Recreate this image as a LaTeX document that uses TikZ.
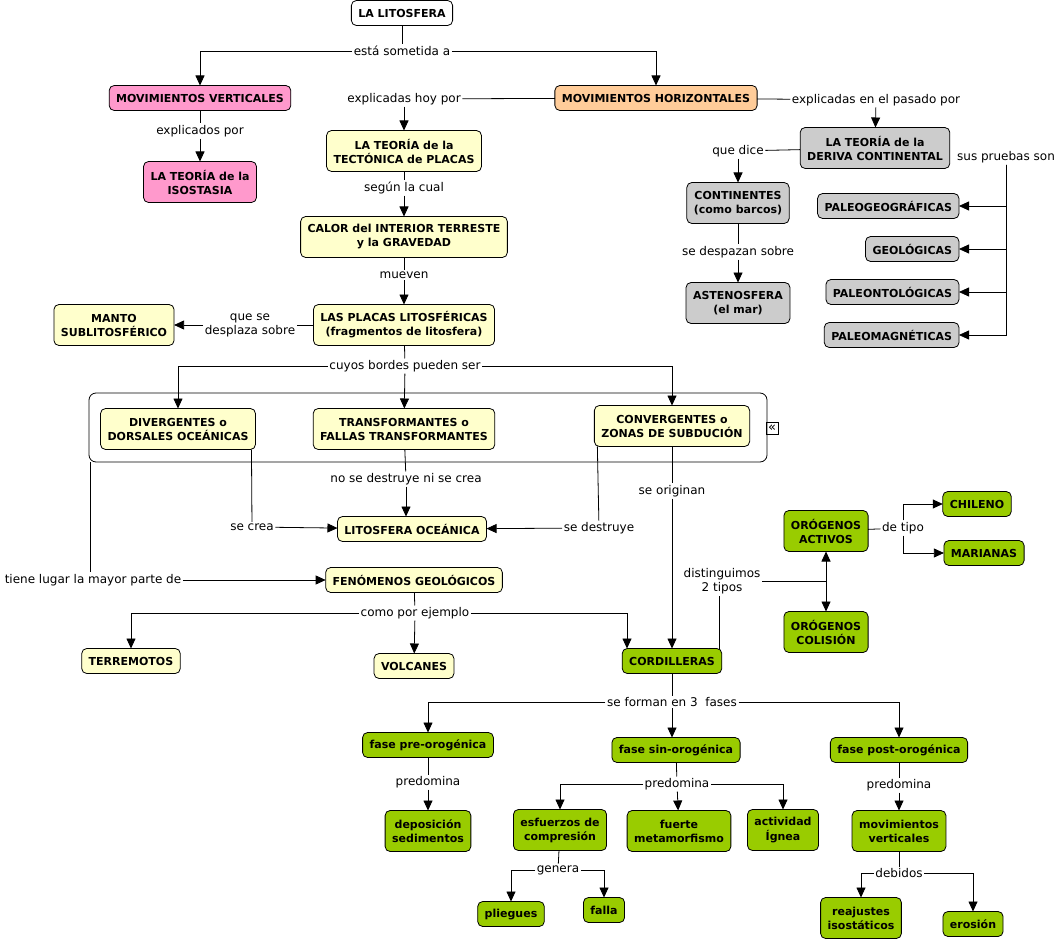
\documentclass[tikz,border=0pt]{standalone}
\usepackage{fontspec}
\setmainfont{DejaVu Sans}
\usetikzlibrary{arrows.meta}
\newcommand{\conceptfont}{\fontsize{11}{14}\selectfont\bfseries}
\newcommand{\linkfont}{\fontsize{12}{14}\selectfont}
\definecolor{cmpink}{HTML}{FF99CC}
\definecolor{cmorange}{HTML}{FFCC99}
\definecolor{cmyellow}{HTML}{FFFFCC}
\definecolor{cmgrey}{HTML}{CCCCCC}
\definecolor{cmgreen}{HTML}{99CC00}
\tikzstyle{concept}=[draw, rounded corners=5pt, line width=0.8pt, align=center, font=\conceptfont,
                     inner xsep=7pt, inner ysep=3pt, minimum height=25pt, outer sep=0]
\tikzstyle{tall}=[concept, minimum height=41pt]
\tikzstyle{pinkbox}=[fill=cmpink]
\tikzstyle{orangebox}=[fill=cmorange]
\tikzstyle{yellowbox}=[fill=cmyellow]
\tikzstyle{greybox}=[fill=cmgrey]
\tikzstyle{greenbox}=[fill=cmgreen]
\tikzstyle{linkword}=[font=\linkfont, align=center, inner sep=1.5pt]
\tikzstyle{plain}=[line width=0.8pt]
\tikzstyle{link}=[plain, -{Triangle[length=10pt, width=9pt]}]
\tikzstyle{conceptmap}=[x=1pt, y=-1pt,
                        % Grouping frame round the plate borders.
                        groupbox/.style={draw, rounded corners=7pt, line width=0.8pt, minimum width=678pt, minimum height=69pt}]

\begin{document}
\begin{tikzpicture}[conceptmap]
    \useasboundingbox (0, 0) rectangle (1062, 941);
    \node[groupbox] (bordes) at (428, 427.5) {};
    \node[draw, line width=0.6pt, inner sep=0, minimum size=12pt, font=\fontsize{13}{13}\selectfont] (collapse) at (772, 428) {«};
    % concepts
    \node[concept, fill=white] (lito) at (402, 13) {LA LITOSFERA};
    \node[concept, pinkbox] (movv) at (200, 98) {MOVIMIENTOS VERTICALES};
    \node[tall, pinkbox] (isost) at (200, 182) {LA TEORÍA de la\\ISOSTASIA};
    \node[concept, orangebox] (movh) at (656, 98) {MOVIMIENTOS HORIZONTALES};
    \node[tall, yellowbox] (tecto) at (404, 151) {LA TEORÍA de la\\TECTÓNICA de PLACAS};
    \node[tall, yellowbox] (calor) at (404, 237) {CALOR del INTERIOR TERRESTE\\y la GRAVEDAD};
    \node[tall, yellowbox] (placas) at (404, 325) {LAS PLACAS LITOSFÉRICAS\\(fragmentos de litosfera)};
    \node[tall, yellowbox] (manto) at (114, 325) {MANTO\\SUBLITOSFÉRICO};
    \node[tall, yellowbox] (diverg) at (178, 429) {DIVERGENTES o\\DORSALES OCEÁNICAS};
    \node[tall, yellowbox] (transf) at (404, 429) {TRANSFORMANTES o\\FALLAS TRANSFORMANTES};
    \node[tall, yellowbox] (converg) at (672, 426) {CONVERGENTES o\\ZONAS DE SUBDUCIÓN};
    \node[concept, yellowbox] (litoc) at (412, 529) {LITOSFERA OCEÁNICA};
    \node[concept, yellowbox] (fenom) at (414, 580) {FENÓMENOS GEOLÓGICOS};
    \node[concept, yellowbox] (terrem) at (131, 661) {TERREMOTOS};
    \node[concept, yellowbox] (volc) at (414, 666) {VOLCANES};
    \node[tall, greybox] (deriva) at (875, 148) {LA TEORÍA de la\\DERIVA CONTINENTAL};
    \node[tall, greybox] (contin) at (738, 203) {CONTINENTES\\(como barcos)};
    \node[tall, greybox] (asteno) at (738, 303) {ASTENOSFERA\\(el mar)};
    \node[concept, greybox, anchor=east] (paleogeo) at (959, 206) {PALEOGEOGRÁFICAS};
    \node[concept, greybox, anchor=east] (geol) at (959, 249) {GEOLÓGICAS};
    \node[concept, greybox, anchor=east] (paleont) at (959, 292) {PALEONTOLÓGICAS};
    \node[concept, greybox, anchor=east] (paleomag) at (959, 335) {PALEOMAGNÉTICAS};
    \node[concept, greenbox] (cord) at (672, 661) {CORDILLERAS};
    \node[tall, greenbox] (activos) at (826, 531) {ORÓGENOS\\ACTIVOS};
    \node[tall, greenbox] (colision) at (826, 632) {ORÓGENOS\\COLISIÓN};
    \node[concept, greenbox] (chileno) at (977, 504) {CHILENO};
    \node[concept, greenbox] (marianas) at (984, 553) {MARIANAS};
    \node[concept, greenbox] (fpre) at (428, 745) {fase pre-orogénica};
    \node[concept, greenbox] (fsin) at (676, 750) {fase sin-orogénica};
    \node[concept, greenbox] (fpost) at (899, 750) {fase post-orogénica};
    \node[tall, greenbox] (depos) at (428, 831) {deposición\\sedimentos};
    \node[tall, greenbox] (esfuer) at (560, 830) {esfuerzos de\\compresión};
    \node[tall, greenbox] (fuerte) at (679, 831) {fuerte\\metamorfismo};
    \node[tall, greenbox] (activ) at (783, 830) {actividad\\Ígnea};
    \node[tall, greenbox] (movvert) at (899, 831) {movimientos\\verticales};
    \node[concept, greenbox] (pliegues) at (511, 914) {pliegues};
    \node[concept, greenbox] (falla) at (604, 910) {falla};
    \node[tall, greenbox] (reajustes) at (861, 918) {reajustes\\isostáticos};
    \node[concept, greenbox] (erosion) at (973, 924) {erosión};
    % linking words
    \node[linkword] (sometida) at (402, 51) {está sometida a};
    \node[linkword] (explicados) at (200, 131) {explicados por};
    \node[linkword] (hoy) at (404, 99) {explicadas hoy por};
    \node[linkword] (pasado) at (876, 100) {explicadas en el pasado por};
    \node[linkword] (segun) at (404, 188) {según la cual};
    \node[linkword] (mueven) at (404, 275) {mueven};
    \node[linkword] (desplaza) at (250, 325) {que se\\desplaza sobre};
    \node[linkword] (cuyos) at (405, 366) {cuyos bordes pueden ser};
    \node[linkword] (nosedes) at (406, 479) {no se destruye ni se crea};
    \node[linkword] (secrea) at (252, 527) {se crea};
    \node[linkword] (sedest) at (599, 528) {se destruye};
    \node[linkword] (origin) at (672, 491) {se originan};
    \node[linkword] (tiene) at (93, 580) {tiene lugar la mayor parte de};
    \node[linkword] (ejemplo) at (415, 613) {como por ejemplo};
    \node[linkword] (distin) at (722, 581) {distinguimos\\2 tipos};
    \node[linkword] (detipo) at (903, 528) {de tipo};
    \node[linkword] (forman) at (672, 702) {se forman en 3\ \ fases};
    \node[linkword] (predpre) at (428, 782) {predomina};
    \node[linkword] (predsin) at (677, 784) {predomina};
    \node[linkword] (predpost) at (899, 785) {predomina};
    \node[linkword] (genera) at (558, 870) {genera};
    \node[linkword] (debidos) at (899, 873) {debidos};
    \node[linkword] (quedice) at (738, 151) {que dice};
    \node[linkword] (despazan) at (738, 252) {se despazan sobre};
    \node[linkword] (pruebas) at (1006, 157) {sus pruebas son};
    \coordinate (junc) at (826, 581);
    % connectors
    \draw[plain] (lito) -- (sometida);
    \draw[link] (sometida) -| (movv);
    \draw[link] (sometida) -| (movh);
    \draw[plain] (movv) -- (explicados);
    \draw[link] (explicados) -- (isost);
    \draw[plain] (movh) -- (hoy);
    \draw[link] (hoy) -- (tecto);
    \draw[plain] (tecto) -- (segun);
    \draw[link] (segun) -- (calor);
    \draw[plain] (calor) -- (mueven);
    \draw[link] (mueven) -- (placas);
    \draw[plain] (placas) -- (desplaza);
    \draw[link] (desplaza) -- (manto);
    \draw[plain] (placas) -- (cuyos);
    \draw[link] (cuyos) -| (diverg);
    \draw[link] (cuyos) -- (transf);
    \draw[link] (cuyos) -| (converg);
    \draw[plain] (transf) -- (nosedes);
    \draw[link] (nosedes) -- (nosedes |- litoc.north);
    \draw[plain] ([xshift=-4pt]diverg.south east) -- (secrea);
    \draw[link] (secrea) -- (litoc);
    \draw[plain] ([xshift=3pt]converg.south west) -- (sedest);
    \draw[link] (sedest) -- (litoc);
    \draw[plain] (converg) -- (origin);
    \draw[link] (origin) -- (cord);
    \draw[plain] ([xshift=2pt]bordes.south west) -- ([xshift=2pt]bordes.south west |- tiene.north);
    \draw[link] (tiene) -- (fenom);
    \draw[plain] (fenom) -- (ejemplo);
    \draw[link] (ejemplo) -| (terrem);
    \draw[link] (ejemplo) -- (volc);
    \draw[link] (ejemplo) -| ([xshift=-45pt]cord.north);
    \draw[plain] ([xshift=-2pt]cord.north east) -- ([xshift=-2pt]cord.north east |- distin.south);
    \draw[plain] (distin) -- (junc);
    \draw[link] (junc) -- (activos);
    \draw[link] (junc) -- (colision);
    \draw[plain] (activos) -- (detipo);
    \draw[link] (detipo) |- (chileno);
    \draw[link] (detipo) |- (marianas);
    \draw[plain] (cord) -- (forman);
    \draw[link] (forman) -| (fpre);
    \draw[link] (forman) -- (forman |- fsin.north);
    \draw[link] (forman) -| (fpost);
    \draw[plain] (fpre) -- (predpre);
    \draw[link] (predpre) -- (depos);
    \draw[plain] (fsin) -- (predsin);
    \draw[link] (predsin) -| (esfuer);
    \draw[link] (predsin) -- (fuerte);
    \draw[link] (predsin) -| (activ);
    \draw[plain] (fpost) -- (predpost);
    \draw[link] (predpost) -- (movvert);
    \draw[plain] (esfuer) -- (genera);
    \draw[link] (genera) -| (pliegues);
    \draw[link] (genera) -| (falla);
    \draw[plain] (movvert) -- (debidos);
    \draw[link] (debidos) -| (reajustes);
    \draw[link] (debidos) -| (erosion);
    \draw[plain] (movh) -- (pasado);
    \draw[link] (pasado) -- (deriva);
    \draw[plain] (deriva) -- (quedice);
    \draw[link] (quedice) -- (contin);
    \draw[plain] (contin) -- (despazan);
    \draw[link] (despazan) -- (asteno);
    \draw[link] (pruebas) |- (paleogeo);
    \draw[link] (pruebas) |- (geol);
    \draw[link] (pruebas) |- (paleont);
    \draw[link] (pruebas) |- (paleomag);
\end{tikzpicture}
\end{document}
